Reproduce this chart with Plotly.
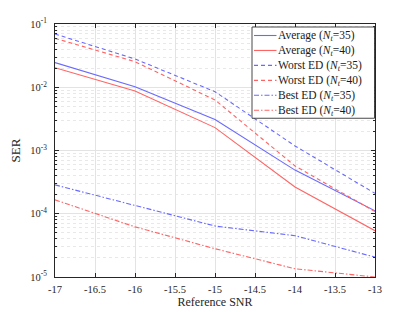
import plotly.graph_objects as go

snr = [-17, -16, -15, -14, -13]
avg35 = [0.0245, 0.0102, 0.0031, 4.9e-4, 1.11e-4]
avg40 = [0.0204, 0.0087, 0.0023, 2.65e-4, 5.4e-5]
worst35 = [0.0695, 0.028, 0.0085, 1.18e-3, 2.1e-4]
worst40 = [0.0594, 0.0254, 0.0063, 5.7e-4, 1.08e-4]
best35 = [2.86e-4, 1.35e-4, 6.4e-5, 4.5e-5, 2.06e-5]
best40 = [1.66e-4, 6.2e-5, 2.8e-5, 1.35e-5, 1.0e-5]

xticks = [-17, -16.5, -16, -15.5, -15, -14.5, -14, -13.5, -13]
xticklabels = ["-17", "-16.5", "-16", "-15.5", "-15", "-14.5", "-14", "-13.5", "-13"]
ydecades = [1e-5, 1e-4, 1e-3, 1e-2, 1e-1]
yticklabels = ["10<sup>-5</sup>", "10<sup>-4</sup>", "10<sup>-3</sup>", "10<sup>-2</sup>", "10<sup>-1</sup>"]

BLUE = "rgb(105,105,255)"
RED = "rgb(255,100,100)"
DASH = "4px,3px"
DASHDOT = "5px,2px,1.5px,2px"

series = [
    ("Average (<i>N<sub>t</sub></i>=35)", avg35, BLUE, "solid"),
    ("Average (<i>N<sub>t</sub></i>=40)", avg40, RED, "solid"),
    ("Worst ED (<i>N<sub>t</sub></i>=35)", worst35, BLUE, DASH),
    ("Worst ED (<i>N<sub>t</sub></i>=40)", worst40, RED, DASH),
    ("Best ED (<i>N<sub>t</sub></i>=35)", best35, BLUE, DASHDOT),
    ("Best ED (<i>N<sub>t</sub></i>=40)", best40, RED, DASHDOT),
]

SERIF = "Liberation Serif"
OFF = 8  # page body margin of the html page
W, H = 415 - OFF, 312 - OFF
ML, MR, MT, MB = 55 - OFF, 40, 24 - OFF, 35
PW, PH = W - ML - MR, H - MT - MB
X0S, Y1S = ML + OFF, MT + OFF + PH  # screen pixels of plot left / bottom


def px(xs):
    return (xs - X0S) / PW


def py(ys):
    return (Y1S - ys) / PH


fig = go.Figure()
for name, y, c, d in series:
    fig.add_trace(go.Scatter(x=snr, y=y, mode="lines", name=name, showlegend=False,
                             line=dict(color=c, width=1.1, dash=d)))

# legend: box, sample lines and one multi-line label block
LFS = 11.5
LH = LFS * 1.3
ROW0 = 35.5
rows = [ROW0 + LH * i for i in range(len(series))]
shapes = [dict(type="rect", xref="paper", yref="paper",
               x0=px(252), x1=px(374.5), y0=py(rows[-1] + 8), y1=py(27),
               fillcolor="white", line=dict(color="#333333", width=0.9), layer="above")]
for (name, y, c, d), yc in zip(series, rows):
    shapes.append(dict(type="line", xref="paper", yref="paper",
                       x0=px(254), x1=px(276.5), y0=py(yc), y1=py(yc),
                       line=dict(color=c, width=1.1, dash=d), layer="above"))
annotations = [dict(text="<br>".join(s[0] for s in series), xref="paper", yref="paper",
                    x=px(277), y=py(sum(rows) / len(rows) + 0.5), xanchor="left",
                    yanchor="middle", align="left", showarrow=False, borderpad=0,
                    font=dict(family=SERIF, size=LFS, color="#1a1a1a"))]

minor_vals = [m * d for d in ydecades[:-1] for m in range(2, 10)]

fig.update_layout(
    width=W, height=H,
    margin=dict(l=ML, r=MR, t=MT, b=MB),
    paper_bgcolor="white", plot_bgcolor="white",
    font=dict(family=SERIF, size=11, color="#262626"),
    showlegend=False,
    shapes=shapes, annotations=annotations,
    xaxis=dict(range=[-17, -13], tickvals=xticks, ticktext=xticklabels,
               showgrid=True, gridcolor="#e3e3e3", gridwidth=1,
               showline=True, linecolor="#262626", linewidth=1, mirror="ticks",
               ticks="inside", ticklen=4, tickcolor="#262626",
               zeroline=False, automargin=False, ticklabelstandoff=2,
               tickfont=dict(family=SERIF, size=10.5),
               title=dict(text="Reference SNR", standoff=3, font=dict(family=SERIF, size=12))),
    yaxis=dict(type="log", range=[-5, -1], tickvals=ydecades, ticktext=yticklabels,
               showgrid=True, gridcolor="#e3e3e3", gridwidth=1,
               showline=True, linecolor="#262626", linewidth=1, mirror="ticks",
               ticks="inside", ticklen=4, tickcolor="#262626",
               zeroline=False, automargin=False, ticklabelstandoff=5,
               tickfont=dict(family=SERIF, size=10.5),
               minor=dict(tickvals=minor_vals, ticks="inside", ticklen=2,
                          tickcolor="#262626", showgrid=True,
                          gridcolor="#e8e8e8", griddash="dot", gridwidth=1),
               title=dict(text="SER", standoff=6, font=dict(family=SERIF, size=13))),
)

fig.write_html("out.html")
